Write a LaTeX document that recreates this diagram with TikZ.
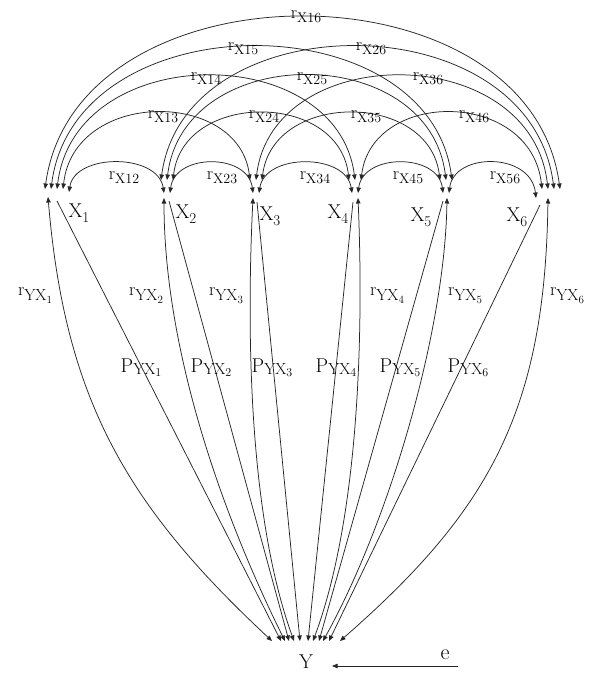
\documentclass[tikz,border=0pt]{standalone}
\usetikzlibrary{arrows.meta}
\newcommand\rxl[1]{r\raisebox{-4pt}{\fontsize{14}{14}\selectfont X#1}}
\newcommand\ryxl[1]{r\raisebox{-5pt}{\fontsize{16}{16}\selectfont YX\raisebox{-3pt}{\fontsize{11}{11}\selectfont #1}}}
\newcommand\pyxl[1]{{\fontsize{20}{20}\selectfont P}\raisebox{-2pt}{\fontsize{16}{16}\selectfont YX\raisebox{-2pt}{\fontsize{12}{12}\selectfont #1}}}
\newcommand\xlab[1]{X\raisebox{-5pt}{\fontsize{15}{15}\selectfont #1}}
\begin{document}
\begin{tikzpicture}[x=1pt,y=-1pt,
  conn/.style={line width=0.75pt, draw=black!85},
  dbl/.style={conn,{Triangle[length=5.5pt,width=4.5pt]}-{Triangle[length=5.5pt,width=4.5pt]}},
  sgl/.style={conn,-{Triangle[length=5.5pt,width=4.5pt]}},
  lab/.style={inner sep=0pt, font=\fontsize{18}{18}\selectfont},
  big/.style={inner sep=0pt, font=\fontsize{20}{20}\selectfont}]
\useasboundingbox (0,0) rectangle (592,674);

% ---------- arc end points ----------
\coordinate (s12) at (69,192);  \coordinate (e12) at (164,193);
\coordinate (s23) at (170,193); \coordinate (e23) at (253,193);
\coordinate (s34) at (259,193); \coordinate (e34) at (352,193);
\coordinate (s45) at (358,193); \coordinate (e45) at (443,193);
\coordinate (s56) at (449,193); \coordinate (e56) at (536,198);
\coordinate (s13) at (63,189);  \coordinate (e13) at (250,180);
\coordinate (s24) at (173,180); \coordinate (e24) at (349,180);
\coordinate (s35) at (262,180); \coordinate (e35) at (440,180);
\coordinate (s46) at (361,180); \coordinate (e46) at (542,189);
\coordinate (s14) at (57,189);  \coordinate (e14) at (355,180);
\coordinate (s25) at (167,180); \coordinate (e25) at (446,180);
\coordinate (s36) at (256,180); \coordinate (e36) at (548,189);
\coordinate (s15) at (51,189);  \coordinate (e15) at (452,180);
\coordinate (s26) at (161,180); \coordinate (e26) at (554,189);
\coordinate (s16) at (45,189);  \coordinate (e16) at (560,189);

% ---------- correlation arcs ----------
\draw[dbl] (s12) .. controls +(6,-39) and +(-6,-40) .. (e12);
\draw[dbl] (s23) .. controls +(5,-40) and +(-5,-40) .. (e23);
\draw[dbl] (s34) .. controls +(6,-40) and +(-6,-40) .. (e34);
\draw[dbl] (s45) .. controls +(5,-40) and +(-5,-40) .. (e45);
\draw[dbl] (s56) .. controls +(5,-41) and +(-5,-46) .. (e56);
\draw[dbl] (s13) .. controls +(11,-100) and +(-11,-91) .. (e13);
\draw[dbl] (s24) .. controls +(10,-89) and +(-10,-89) .. (e24);
\draw[dbl] (s35) .. controls +(11,-89) and +(-11,-89) .. (e35);
\draw[dbl] (s46) .. controls +(11,-91) and +(-11,-100) .. (e46);
\draw[dbl] (s14) .. controls +(18,-149) and +(-18,-140) .. (e14);
\draw[dbl] (s25) .. controls +(17,-139) and +(-17,-139) .. (e25);
\draw[dbl] (s36) .. controls +(17,-140) and +(-17,-149) .. (e36);
\draw[dbl] (s15) .. controls +(24,-188) and +(-24,-179) .. (e15);
\draw[dbl] (s26) .. controls +(24,-179) and +(-24,-188) .. (e26);
\draw[dbl] (s16) .. controls +(31,-229) and +(-31,-229) .. (e16);

% ---------- Y side points ----------
\coordinate (u1) at (48,197);  \coordinate (yr1) at (272,641);
\coordinate (u2) at (164,198); \coordinate (yr2) at (285,641);
\coordinate (u3) at (253,198); \coordinate (yr3) at (294,641);
\coordinate (u4) at (358,198); \coordinate (yr4) at (313,641);
\coordinate (u5) at (447,198); \coordinate (yr5) at (323,641);
\coordinate (u6) at (548,198); \coordinate (yr6) at (340,641);
\coordinate (p1) at (57,201);  \coordinate (yp1) at (281,641);
\coordinate (p2) at (169,201); \coordinate (yp2) at (289,641);
\coordinate (p3) at (257,202); \coordinate (yp3) at (300,641);
\coordinate (p4) at (353,202); \coordinate (yp4) at (308,641);
\coordinate (p5) at (443,201); \coordinate (yp5) at (319,641);
\coordinate (p6) at (540,205); \coordinate (yp6) at (329,641);

% r_YX curves
\draw[dbl] (u1) .. controls +(17,202) and +(-146,-136) .. (yr1);
\draw[dbl] (u2) .. controls +(0,142) and +(-70,-141) .. (yr2);
\draw[dbl] (u3) .. controls +(-7,142) and +(-44,-121) .. (yr3);
\draw[dbl] (u4) .. controls +(6,142) and +(45,-121) .. (yr4);
\draw[dbl] (u5) .. controls +(-2,132) and +(67,-121) .. (yr5);
\draw[dbl] (u6) .. controls +(-3,212) and +(150,-131) .. (yr6);
% path lines
\foreach \i in {1,...,6} \draw[sgl] (p\i) -- (yp\i);

% ---------- labels ----------
\node[big] (X1) at (79,213) {\xlab{1}};
\node[big] (X2) at (186,214) {\xlab{2}};
\node[big] (X3) at (270,216) {\xlab{3}};
\node[big] (X4) at (338,214) {\xlab{4}};
\node[big] (X5) at (421,217) {\xlab{5}};
\node[big] (X6) at (517,217) {\xlab{6}};

\node[lab] (l12) at (124,178) {\rxl{12}};
\node[lab] (l23) at (222,178) {\rxl{23}};
\node[lab] (l34) at (315,178) {\rxl{34}};
\node[lab] (l45) at (408,178) {\rxl{45}};
\node[lab] (l56) at (505,178) {\rxl{56}};
\node[lab] (l13) at (163,117) {\rxl{13}};
\node[lab] (l24) at (264,117) {\rxl{24}};
\node[lab] (l35) at (366,117) {\rxl{35}};
\node[lab] (l46) at (474,117) {\rxl{46}};
\node[lab] (l14) at (206,79) {\rxl{14}};
\node[lab] (l25) at (312,79) {\rxl{25}};
\node[lab] (l36) at (428,79) {\rxl{36}};
\node[lab] (l15) at (243,49) {\rxl{15}};
\node[lab] (l26) at (371,49) {\rxl{26}};
\node[lab] (l16) at (306,17) {\rxl{16}};

\node[lab] (ry1) at (35,296) {\ryxl{1}};
\node[lab] (ry2) at (146,296) {\ryxl{2}};
\node[lab] (ry3) at (226,296) {\ryxl{3}};
\node[lab] (ry4) at (387,296) {\ryxl{4}};
\node[lab] (ry5) at (465,296) {\ryxl{5}};
\node[lab] (ry6) at (567,296) {\ryxl{6}};

\node[lab] (py1) at (141,368) {\pyxl{1}};
\node[lab] (py2) at (211,368) {\pyxl{2}};
\node[lab] (py3) at (272,368) {\pyxl{3}};
\node[lab] (py4) at (336,368) {\pyxl{4}};
\node[lab] (py5) at (400,368) {\pyxl{5}};
\node[lab] (py6) at (468,368) {\pyxl{6}};

\node[big] (Y) at (306,662) {Y};
\node[inner sep=0pt, font=\fontsize{22}{22}\selectfont] (e) at (445,655) {e};
\coordinate (etail) at (458,666);
\coordinate (Yin) at (332,666);
\draw[sgl] (etail) -- (Yin);
\end{tikzpicture}
\end{document}
